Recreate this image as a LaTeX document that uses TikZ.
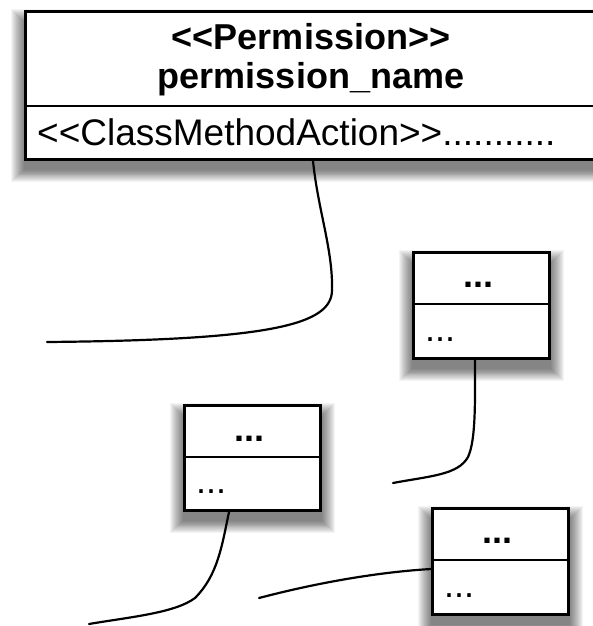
\documentclass[tikz,border=0pt]{standalone}
\usepackage{fontspec}
\newfontfamily\umlfont{Liberation Sans}
\usetikzlibrary{calc}
\pgfdeclarelayer{paper}
\pgfdeclarelayer{shade}
\pgfsetlayers{paper,shade,main}
\tikzset{
  classbox/.style={draw=black, line width=3bp, fill=white, anchor=north west, inner sep=0pt},
  divider/.style={line width=2.5bp},
  link/.style={line width=2.2bp, line cap=round},
  shadelayer/.style={fill=black, opacity=0.042},
  umltext/.style={inner sep=0pt, font=\umlfont\fontsize{36bp}{42bp}\selectfont},
  attrtext/.style={inner sep=0pt, font=\umlfont\fontsize{37bp}{42bp}\selectfont},
}
% soft drop shadow under a named box: stacked translucent rectangles
\newcommand\softshadow[1]{%
  \begin{pgfonlayer}{shade}
    \foreach \k in {0,...,13}{
      \fill[shadelayer] ($(#1.north west)+(-\k,12-\k)$) rectangle ($(#1.south east)+(\k,9+0.9*\k)$);
    }
  \end{pgfonlayer}}
\begin{document}
\begin{tikzpicture}[x=1bp,y=-1bp]
\useasboundingbox (0,0) rectangle (593,626);
\clip (0,0) rectangle (593,626);
\begin{pgfonlayer}{paper}
  \fill[white] (0,0) rectangle (593,626);
\end{pgfonlayer}

% permission class
\node[classbox, minimum width=574bp, minimum height=148bp] (perm) at (24,10) {};
\softshadow{perm}
\draw[divider] ($(perm.north west)+(0,96)$) -- ($(perm.north east)+(0,96)$);
\node[umltext, anchor=base] (ptitle) at (311,50) {\bfseries <<Permission>>};
\node[umltext, anchor=base] (pname) at (311,89) {\bfseries permission\_name};
\node[attrtext, anchor=base west] (pattr) at (37,146) {<<ClassMethodAction>>...........};

% three placeholder classes
\node[classbox, minimum width=136bp, minimum height=106bp] (b1) at (412,251) {};
\softshadow{b1}
\draw[divider] ($(b1.north west)+(0,53)$) -- ($(b1.north east)+(0,53)$);
\node[umltext, anchor=base] (b1t) at (478,287) {\bfseries ...};
\node[umltext, anchor=base west] (b1a) at (425,341) {...};

\node[classbox, minimum width=136bp, minimum height=105bp] (b2) at (183,404) {};
\softshadow{b2}
\draw[divider] ($(b2.north west)+(0,53)$) -- ($(b2.north east)+(0,53)$);
\node[umltext, anchor=base] (b2t) at (249,441) {\bfseries ...};
\node[umltext, anchor=base west] (b2a) at (196,493) {...};

\node[classbox, minimum width=136bp, minimum height=106bp] (b3) at (431,507) {};
\softshadow{b3}
\draw[divider] ($(b3.north west)+(0,53)$) -- ($(b3.north east)+(0,53)$);
\node[umltext, anchor=base] (b3t) at (497,543) {\bfseries ...};
\node[umltext, anchor=base west] (b3a) at (444,597) {...};

% loose connector ends
\coordinate (e1) at (47,342);
\coordinate (e2) at (393,483);
\coordinate (e3) at (89,624);
\coordinate (e4) at (259,598);

% connectors
\draw[link] ($(perm.south west)+(289,0)$) .. controls (318,210) and (333,250) .. (332,290)
  .. controls (332,325) and (270,340) .. (e1);
\draw[link] ($(b1.south west)+(63,0)$) .. controls (475,400) and (476,440) .. (468,457)
  .. controls (458,475) and (430,476) .. (e2);
\draw[link] ($(b2.south west)+(46,0)$) .. controls (222,545) and (218,575) .. (195,598)
  .. controls (175,613) and (130,617) .. (e3);
\draw[link] ($(b3.north west)+(0,62)$) .. controls (380,572) and (320,582) .. (e4);
\end{tikzpicture}
\end{document}
